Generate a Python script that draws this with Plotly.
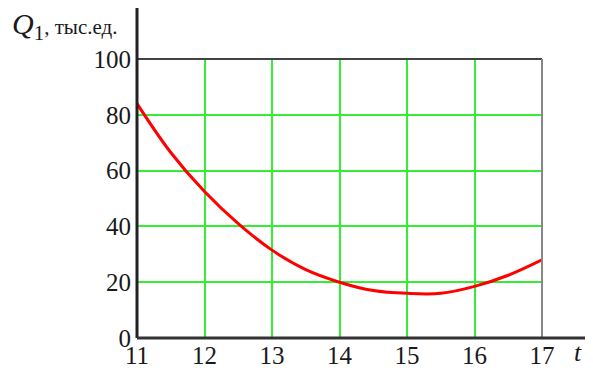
import plotly.graph_objects as go

t_vals = [11, 11.5, 12, 12.5, 13, 13.5, 14, 14.5, 15, 15.5, 16, 16.5, 17]
q_vals = [84, 66.5, 52.5, 41, 31.5, 24.5, 20, 17, 16, 16, 18.5, 22.5, 28]
x_ticks = [11, 12, 13, 14, 15, 16, 17]
y_ticks = [0, 20, 40, 60, 80, 100]

# page body has an 8px margin: compensate
OFF = 8
W, H = 593 - OFF, 377 - OFF
ml, mr, mt, mb = 137 - OFF, 51, 59 - OFF, 39
pw, ph = W - ml - mr, H - mt - mb

fig = go.Figure()
fig.add_trace(go.Scatter(x=t_vals, y=q_vals, mode="lines",
                         line=dict(color="#ff0000", width=3, shape="spline"),
                         showlegend=False, hoverinfo="skip"))

font = dict(family="Liberation Serif", size=25, color="#1a1a1a")
fig.update_layout(
    width=W, height=H,
    margin=dict(l=ml, r=mr, t=mt, b=mb, autoexpand=False),
    paper_bgcolor="white", plot_bgcolor="white",
    xaxis=dict(range=[11, 17], tickvals=x_ticks, showgrid=True,
               gridcolor="#33ee33", gridwidth=1.5, zeroline=False,
               showline=False, ticks="", tickfont=font, ticklabelstandoff=0),
    yaxis=dict(range=[0, 100], tickvals=y_ticks, showgrid=True,
               gridcolor="#33ee33", gridwidth=1.5, zeroline=False,
               showline=False, ticks="", tickfont=font, ticklabelstandoff=5),
)

top_ext = 1 + mt / ph
right_ext = 1 + mr / pw
# box top and right
fig.add_shape(type="line", xref="paper", yref="paper", x0=0, x1=1, y0=1, y1=1,
              line=dict(color="#444444", width=2))
fig.add_shape(type="line", xref="paper", yref="paper", x0=1, x1=1, y0=0, y1=1,
              line=dict(color="#888888", width=2))
# axes extending past plot area
fig.add_shape(type="line", xref="paper", yref="paper", x0=0, x1=0, y0=0, y1=top_ext,
              line=dict(color="#222222", width=3))
fig.add_shape(type="line", xref="paper", yref="paper", x0=0, x1=right_ext, y0=0, y1=0,
              line=dict(color="#333333", width=3))

fig.add_annotation(xref="paper", yref="paper", x=(578 - OFF - ml) / pw,
                   y=-(352 - OFF - mt - ph) / ph, xanchor="center", yanchor="middle",
                   text="<i>t</i>", showarrow=False,
                   font=dict(family="Liberation Serif", size=26, color="#1a1a1a"))
fig.add_annotation(xref="paper", yref="paper", x=(10 - OFF - ml) / pw,
                   y=1 + (mt - (26 - OFF)) / ph,
                   xanchor="left", yanchor="middle",
                   text="<i>Q</i><sub>1</sub><span style='font-size:21px'>, тыс.ед.</span>",
                   showarrow=False,
                   font=dict(family="Liberation Serif", size=30, color="#1a1a1a"))

fig.write_html("out.html")
